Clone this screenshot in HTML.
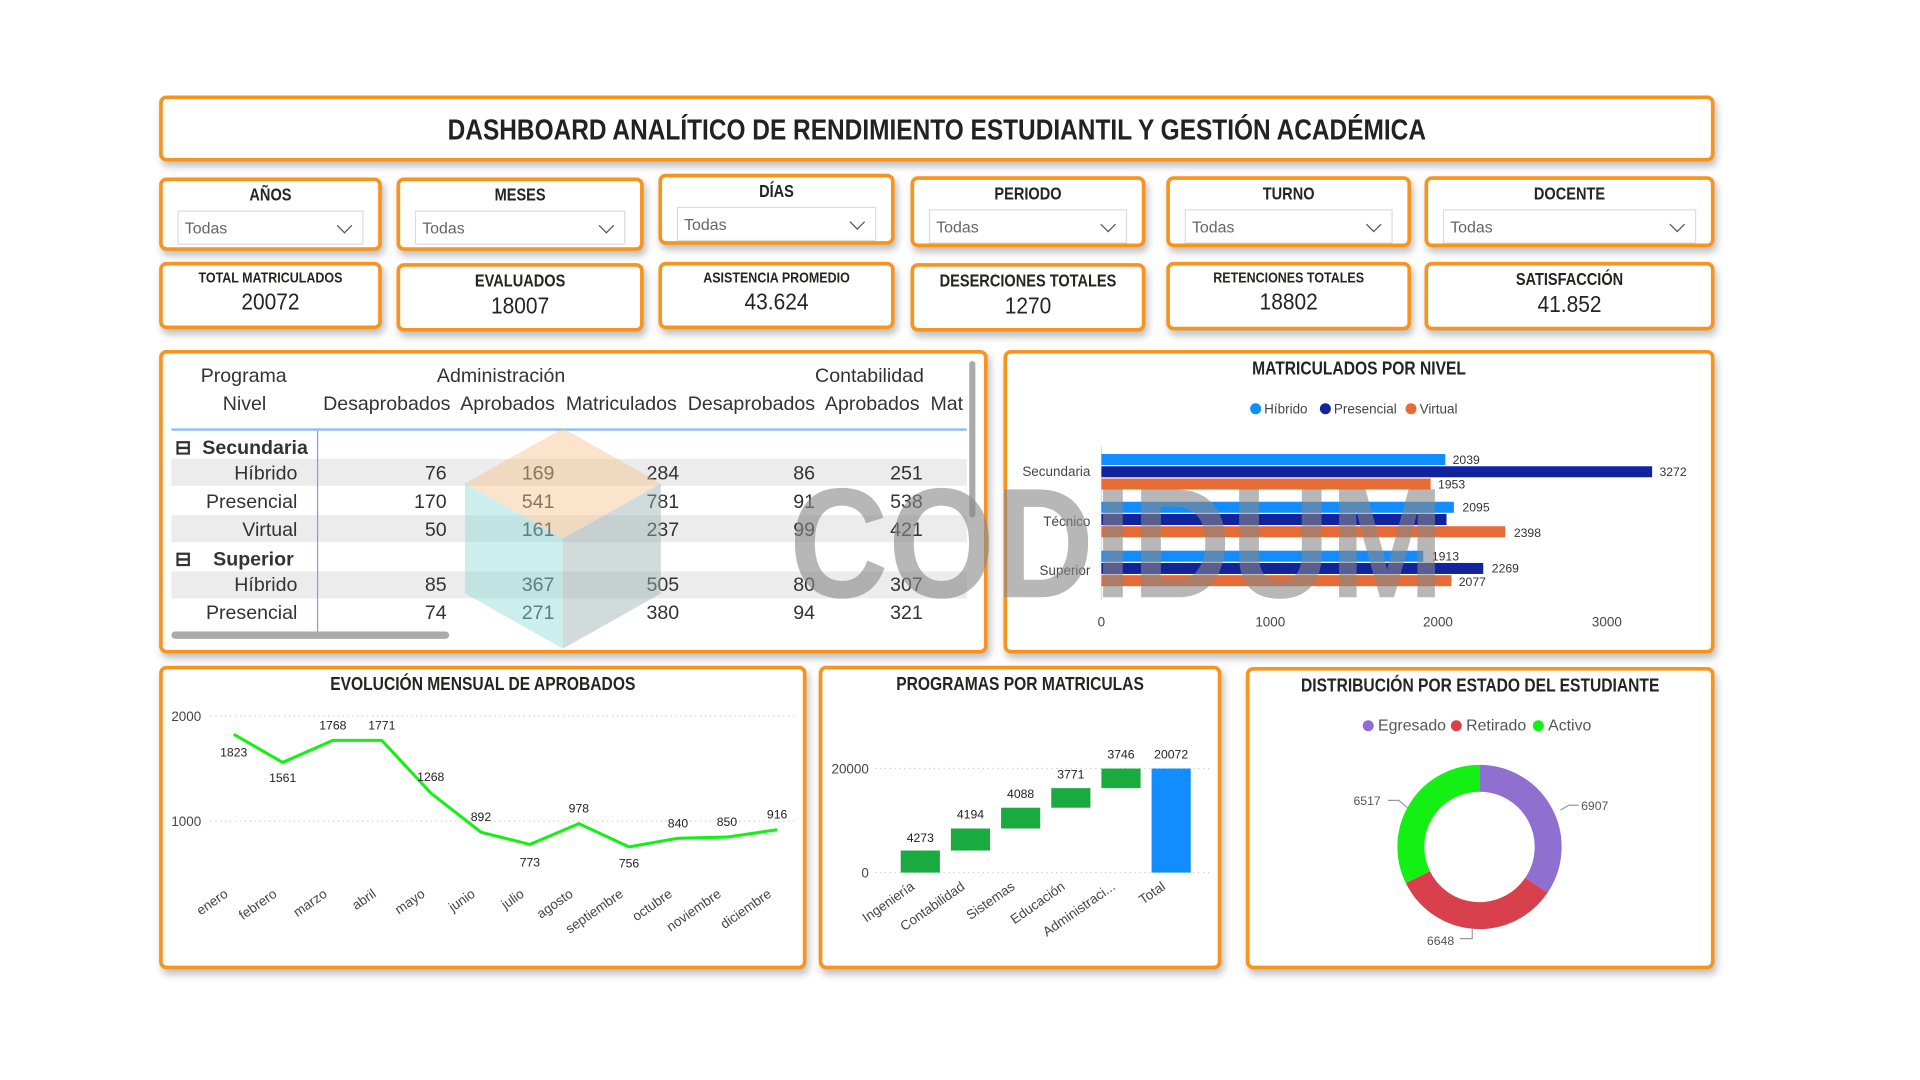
<!DOCTYPE html>
<html><head><meta charset="utf-8"><style>
html,body{margin:0;padding:0;background:#fff;width:1920px;height:1080px;overflow:hidden}
#w{position:absolute;left:0;top:0;width:1545px;height:869px;transform:scale(1.2238);transform-origin:0 0;font-family:"Liberation Sans",sans-serif;color:#252423}
.b{position:absolute;box-sizing:border-box;border:3px solid #F7941D;border-radius:6px;background:#fff;box-shadow:2px 4px 6px rgba(0,0,0,.25)}
.t{position:absolute;left:0;right:0;text-align:center;font-weight:bold;transform:scaleX(.85)}
.dd{position:absolute;left:12px;right:12px;top:24px;height:28px;border:1px solid #ddd;font-size:13px;color:#666;line-height:28px;padding-left:5px;box-sizing:border-box}
.dd:after{content:"";position:absolute;right:10px;top:7px;width:8px;height:8px;border-right:1.5px solid #555;border-bottom:1.5px solid #555;transform:rotate(45deg)}
.kv{position:absolute;left:0;right:0;text-align:center;font-size:19px;transform:scaleX(.9)}
.tb{position:absolute;font-size:16px;color:#333}
.r{position:absolute;text-align:right}
</style></head><body><div id="w">
<div class="b" style="left:130px;top:78px;width:1271px;height:54px"><div class="t" style="top:12px;font-size:23.5px;color:#222">DASHBOARD ANALÍTICO DE RENDIMIENTO ESTUDIANTIL Y GESTIÓN ACADÉMICA</div></div>

<div class="b" style="left:130px;top:145px;width:182px;height:60px"><div class="t" style="top:3px;font-size:14px">AÑOS</div><div class="dd">Todas</div></div>
<div class="b" style="left:324px;top:145px;width:202px;height:60px"><div class="t" style="top:3px;font-size:14px">MESES</div><div class="dd">Todas</div></div>
<div class="b" style="left:538px;top:142px;width:193px;height:58px"><div class="t" style="top:3px;font-size:14px">DÍAS</div><div class="dd">Todas</div></div>
<div class="b" style="left:744px;top:144px;width:192px;height:58px"><div class="t" style="top:3px;font-size:14px">PERIODO</div><div class="dd">Todas</div></div>
<div class="b" style="left:953px;top:144px;width:200px;height:58px"><div class="t" style="top:3px;font-size:14px">TURNO</div><div class="dd">Todas</div></div>
<div class="b" style="left:1164px;top:144px;width:237px;height:58px"><div class="t" style="top:3px;font-size:14px">DOCENTE</div><div class="dd">Todas</div></div>

<div class="b" style="left:130px;top:214px;width:182px;height:55px"><div class="t" style="top:3px;font-size:12px">TOTAL MATRICULADOS</div><div class="kv" style="top:20px">20072</div></div>
<div class="b" style="left:324px;top:215px;width:202px;height:56px"><div class="t" style="top:3px;font-size:14px">EVALUADOS</div><div class="kv" style="top:22px">18007</div></div>
<div class="b" style="left:538px;top:214px;width:193px;height:55px"><div class="t" style="top:3px;font-size:12px">ASISTENCIA PROMEDIO</div><div class="kv" style="top:20px">43.624</div></div>
<div class="b" style="left:744px;top:215px;width:192px;height:56px"><div class="t" style="top:3px;font-size:14px">DESERCIONES TOTALES</div><div class="kv" style="top:22px">1270</div></div>
<div class="b" style="left:953px;top:214px;width:200px;height:56px"><div class="t" style="top:3px;font-size:12px">RETENCIONES TOTALES</div><div class="kv" style="top:20px">18802</div></div>
<div class="b" style="left:1164px;top:214px;width:237px;height:56px"><div class="t" style="top:3px;font-size:14px">SATISFACCIÓN</div><div class="kv" style="top:22px">41.852</div></div>

<div class="b" style="left:130px;top:286px;width:677px;height:248px;overflow:hidden">
<div style="position:absolute;left:7px;top:86px;width:650px;height:22px;background:#ececec"></div>
<div style="position:absolute;left:7px;top:132px;width:650px;height:22px;background:#ececec"></div>
<div style="position:absolute;left:7px;top:178px;width:650px;height:22px;background:#ececec"></div>
<div style="position:absolute;left:7px;top:61px;width:650px;height:2px;background:#8fc1ef"></div>
<div style="position:absolute;left:126px;top:63px;width:1px;height:168px;background:#6aa9e6"></div>
<div style="position:absolute;left:7px;top:227px;width:227px;height:6px;border-radius:3px;background:#aaa"></div>
<div style="position:absolute;left:659px;top:6px;width:5px;height:128px;border-radius:3px;background:#aaa"></div>
<div class="tb" style="left:31px;top:10px">Programa</div><div class="tb" style="left:224px;top:10px">Administración</div><div class="tb" style="left:533px;top:10px">Contabilidad</div>
<div class="tb" style="left:49px;top:33px">Nivel</div>
<div class="tb" style="left:131px;top:33px;white-space:nowrap;word-spacing:0">Desaprobados&nbsp; Aprobados&nbsp; Matriculados&nbsp; Desaprobados&nbsp; Aprobados&nbsp; Mat</div>
<div class="tb" style="left:10px;top:67px;font-weight:bold">⊟ &nbsp;Secundaria</div>
<div class="tb" style="left:10px;top:158px;font-weight:bold">⊟ &nbsp;&nbsp;&nbsp;Superior</div>
<div class="tb" style="top:90px;left:0;width:660px">
<div class="r" style="right:550px">Híbrido</div><div class="r" style="right:428px">76</div><div class="r" style="right:340px">169</div><div class="r" style="right:238px">284</div><div class="r" style="right:127px">86</div><div class="r" style="right:39px">251</div></div>
<div class="tb" style="top:113px;left:0;width:660px">
<div class="r" style="right:550px">Presencial</div><div class="r" style="right:428px">170</div><div class="r" style="right:340px">541</div><div class="r" style="right:238px">781</div><div class="r" style="right:127px">91</div><div class="r" style="right:39px">538</div></div>
<div class="tb" style="top:136px;left:0;width:660px">
<div class="r" style="right:550px">Virtual</div><div class="r" style="right:428px">50</div><div class="r" style="right:340px">161</div><div class="r" style="right:238px">237</div><div class="r" style="right:127px">99</div><div class="r" style="right:39px">421</div></div>
<div class="tb" style="top:181px;left:0;width:660px">
<div class="r" style="right:550px">Híbrido</div><div class="r" style="right:428px">85</div><div class="r" style="right:340px">367</div><div class="r" style="right:238px">505</div><div class="r" style="right:127px">80</div><div class="r" style="right:39px">307</div></div>
<div class="tb" style="top:204px;left:0;width:660px">
<div class="r" style="right:550px">Presencial</div><div class="r" style="right:428px">74</div><div class="r" style="right:340px">271</div><div class="r" style="right:238px">380</div><div class="r" style="right:127px">94</div><div class="r" style="right:39px">321</div></div>
</div>

<div class="b" style="left:820px;top:286px;width:581px;height:248px"><div class="t" style="top:4px;font-size:15px">MATRICULADOS POR NIVEL</div></div>
<div class="b" style="left:130px;top:544px;width:529px;height:248px"><div class="t" style="top:4px;font-size:15px">EVOLUCIÓN MENSUAL DE APROBADOS</div></div>
<div class="b" style="left:669px;top:544px;width:329px;height:248px"><div class="t" style="top:4px;font-size:15px">PROGRAMAS POR MATRICULAS</div></div>
<div class="b" style="left:1018px;top:545px;width:383px;height:247px"><div class="t" style="top:4px;font-size:15px">DISTRIBUCIÓN POR ESTADO DEL ESTUDIANTE</div></div>

<svg style="position:absolute;left:0;top:0" width="1545" height="869" font-family="Liberation Sans, sans-serif">
<g opacity="0.45"><polygon points="460,350 540,395 460,440 380,395" fill="#f7c38f"/><polygon points="380,395 460,440 460,530 380,485" fill="#8fdcd8"/><polygon points="460,440 540,395 540,485 460,530" fill="#9bb0b0"/></g>
<g font-size="11" fill="#444">
<circle cx="1026" cy="334" r="4.5" fill="#118DFF"/><text x="1033" y="338">Híbrido</text>
<circle cx="1083" cy="334" r="4.5" fill="#12239E"/><text x="1090" y="338">Presencial</text>
<circle cx="1153" cy="334" r="4.5" fill="#E66C37"/><text x="1160" y="338">Virtual</text>
<line x1="900" y1="365" x2="900" y2="490" stroke="#ddd"/>
<rect x="900" y="371" width="281" height="9" fill="#118DFF"/><rect x="900" y="381" width="450" height="9" fill="#12239E"/><rect x="900" y="391" width="269" height="9" fill="#E66C37"/>
<rect x="900" y="410" width="288" height="9" fill="#118DFF"/><rect x="900" y="420" width="282" height="9" fill="#12239E"/><rect x="900" y="430" width="330" height="9" fill="#E66C37"/>
<rect x="900" y="450" width="263" height="9" fill="#118DFF"/><rect x="900" y="460" width="312" height="9" fill="#12239E"/><rect x="900" y="470" width="286" height="9" fill="#E66C37"/>
<g font-size="10" fill="#333"><text x="1187" y="379">2039</text><text x="1356" y="389">3272</text><text x="1175" y="399">1953</text><text x="1195" y="418">2095</text><text x="1237" y="439">2398</text><text x="1170" y="458">1913</text><text x="1219" y="468">2269</text><text x="1192" y="479">2077</text></g>
<text x="891" y="389" text-anchor="end">Secundaria</text><text x="891" y="430" text-anchor="end">Técnico</text><text x="891" y="470" text-anchor="end">Superior</text>
<text x="900" y="512" text-anchor="middle">0</text><text x="1038" y="512" text-anchor="middle">1000</text><text x="1175" y="512" text-anchor="middle">2000</text><text x="1313" y="512" text-anchor="middle">3000</text>
</g>
<text x="645" y="488" font-size="128" font-weight="bold" fill="#888" opacity="0.6" textLength="535" lengthAdjust="spacingAndGlyphs">CODIDUM</text>
<g font-size="11" fill="#444">
<line x1="172" y1="585" x2="650" y2="585" stroke="#ccc" stroke-dasharray="1,3"/><line x1="172" y1="671" x2="650" y2="671" stroke="#ccc" stroke-dasharray="1,3"/>
<text x="140" y="589">2000</text><text x="140" y="675">1000</text>
<polyline fill="none" stroke="#14F014" stroke-width="2.5" points="191,600 231,623 272,605 312,605 352,648 393,680 433,690 473,673 514,692 554,685 594,684 635,678"/>
<g font-size="10" fill="#222" text-anchor="middle"><text x="191" y="618">1823</text><text x="231" y="639">1561</text><text x="272" y="596">1768</text><text x="312" y="596">1771</text><text x="352" y="638">1268</text><text x="393" y="671">892</text><text x="433" y="708">773</text><text x="473" y="664">978</text><text x="514" y="709">756</text><text x="554" y="676">840</text><text x="594" y="675">850</text><text x="635" y="669">916</text></g>
<g text-anchor="end"><text transform="translate(187,732) rotate(-35)">enero</text><text transform="translate(227,732) rotate(-35)">febrero</text><text transform="translate(268,732) rotate(-35)">marzo</text><text transform="translate(308,732) rotate(-35)">abril</text><text transform="translate(348,732) rotate(-35)">mayo</text><text transform="translate(389,732) rotate(-35)">junio</text><text transform="translate(429,732) rotate(-35)">julio</text><text transform="translate(469,732) rotate(-35)">agosto</text><text transform="translate(510,732) rotate(-35)">septiembre</text><text transform="translate(550,732) rotate(-35)">octubre</text><text transform="translate(590,732) rotate(-35)">noviembre</text><text transform="translate(631,732) rotate(-35)">diciembre</text></g>
</g>
<g font-size="11" fill="#444">
<line x1="715" y1="628" x2="990" y2="628" stroke="#ccc" stroke-dasharray="1,3"/><line x1="715" y1="713" x2="990" y2="713" stroke="#ccc" stroke-dasharray="1,3"/>
<text x="710" y="632" text-anchor="end">20000</text><text x="710" y="717" text-anchor="end">0</text>
<rect x="736" y="695" width="32" height="18" fill="#1AAB40"/><rect x="777" y="677" width="32" height="18" fill="#1AAB40"/><rect x="818" y="660" width="32" height="17" fill="#1AAB40"/><rect x="859" y="644" width="32" height="16" fill="#1AAB40"/><rect x="900" y="628" width="32" height="16" fill="#1AAB40"/><rect x="941" y="628" width="32" height="85" fill="#118DFF"/>
<g font-size="10" fill="#222" text-anchor="middle"><text x="752" y="688">4273</text><text x="793" y="669">4194</text><text x="834" y="652">4088</text><text x="875" y="636">3771</text><text x="916" y="620">3746</text><text x="957" y="620">20072</text></g>
<g text-anchor="end"><text transform="translate(748,726) rotate(-35)">Ingeniería</text><text transform="translate(789,726) rotate(-35)">Contabilidad</text><text transform="translate(830,726) rotate(-35)">Sistemas</text><text transform="translate(871,726) rotate(-35)">Educación</text><text transform="translate(912,726) rotate(-35)">Administraci...</text><text transform="translate(953,726) rotate(-35)">Total</text></g>
</g>
<g font-size="13" fill="#555">
<circle cx="1118" cy="593" r="4.5" fill="#8F6FD0"/><text x="1126" y="597">Egresado</text>
<circle cx="1190" cy="593" r="4.5" fill="#D9404E"/><text x="1198" y="597">Retirado</text>
<circle cx="1257" cy="593" r="4.5" fill="#14F014"/><text x="1265" y="597">Activo</text>
</g>
<g fill="none" stroke-width="22">
<path d="M1209,636 A56,56 0 0 1 1255.4,723.4" stroke="#8F6FD0"/>
<path d="M1255.4,723.4 A56,56 0 0 1 1158.6,716.7" stroke="#D9404E"/>
<path d="M1158.6,716.7 A56,56 0 0 1 1209,636" stroke="#14F014"/>
</g>
<g font-size="10" fill="#555" stroke-width="1">
<polyline points="1275,662 1282,658 1290,658" stroke="#999" fill="none"/><text x="1292" y="662">6907</text>
<polyline points="1150,660 1143,654 1134,654" stroke="#999" fill="none"/><text x="1106" y="658">6517</text>
<polyline points="1203,758 1203,767 1193,767" stroke="#999" fill="none"/><text x="1166" y="772">6648</text>
</g>
</svg>
</div></body></html>
